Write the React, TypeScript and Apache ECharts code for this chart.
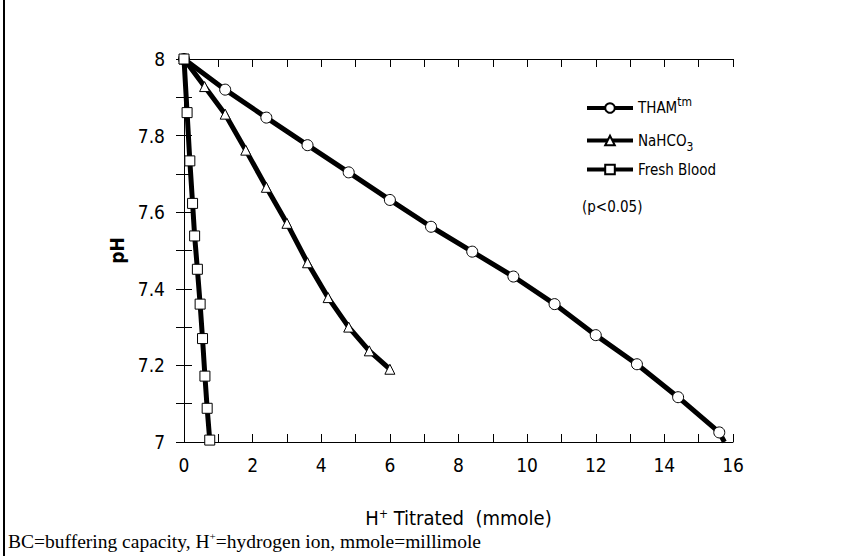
import React, { useEffect, useRef } from "react";
import * as echarts from "echarts";

const thamX = [0, 1.2, 2.4, 3.6, 4.8, 6.0, 7.2, 8.4, 9.6, 10.8, 12.0, 13.2, 14.4, 15.6];
const thamY = [8, 7.92, 7.847, 7.775, 7.704, 7.632, 7.562, 7.497, 7.432, 7.36, 7.279, 7.203, 7.117, 7.025];
const thamEnd = [15.75, 7.0];

const nahcoX = [0, 0.6, 1.2, 1.8, 2.4, 3.0, 3.6, 4.2, 4.8, 5.4, 6.0];
const nahcoY = [8, 7.928, 7.856, 7.762, 7.665, 7.571, 7.468, 7.377, 7.3, 7.238, 7.19];

const bloodX = [0, 0.09, 0.17, 0.25, 0.31, 0.39, 0.47, 0.54, 0.61, 0.675, 0.75];
const bloodY = [8, 7.86, 7.734, 7.623, 7.538, 7.451, 7.36, 7.27, 7.172, 7.088, 7.005];

const seriesNames = ["THAM", "NaHCO3", "Fresh Blood"];

const SANS = "'Liberation Sans Narrow', 'DejaVu Sans Condensed', 'Arial Narrow', 'Liberation Sans', sans-serif";
const SERIF = "'Liberation Serif', 'Times New Roman', serif";

export default function App() {
  const ref = useRef<HTMLDivElement>(null);
  useEffect(() => {
    if (!ref.current) return;
    const chart = echarts.init(ref.current, null, { renderer: "svg" });
    const axisCommon = {
      type: "value" as const,
      axisLine: { show: true, lineStyle: { color: "#000", width: 1 } },
      axisTick: { show: true, inside: true, length: 8, lineStyle: { color: "#000" } },
      minorTick: { show: true, splitNumber: 2, length: 8, lineStyle: { color: "#000" } },
      splitLine: { show: false },
    };
    const lineStyle = { color: "#000", width: 5 };
    const itemStyle = { color: "#fff", borderColor: "#000", borderWidth: 1 };
    const legendText = {
      color: "#000",
      fontFamily: SANS,
      fontSize: 15,
      rich: {
        a: { fontFamily: SANS, fontSize: 15, color: "#000", lineHeight: 24, verticalAlign: "middle" },
        sup: { fontFamily: SANS, fontSize: 12, color: "#000", lineHeight: 12, verticalAlign: "top" },
        sub: { fontFamily: SANS, fontSize: 12, color: "#000", lineHeight: 12, verticalAlign: "bottom" },
      },
    };
    const legendFmt = (n: string) => {
      if (n === "THAM") return "{a|THAM}{sup|tm}";
      if (n === "NaHCO3") return "{a|NaHCO}{sub|3}";
      return "{a|" + n + "}";
    };
    const legendTops = [91, 128, 157];
    const option: any = {
      animation: false,
      grid: { left: 184, top: 59, right: 123, bottom: 114, show: false },
      xAxis: [
        {
          ...axisCommon,
          min: 0,
          max: 16,
          interval: 2,
          position: "bottom",
          axisLabel: { color: "#000", fontFamily: SANS, fontSize: 19, margin: 13 },
          name: "H{sup|+} Titrated  (mmole)",
          nameLocation: "middle",
          nameGap: 66,
          nameTextStyle: {
            color: "#000",
            fontFamily: SANS,
            fontSize: 20,
            rich: {
              sup: { fontFamily: SANS, fontSize: 12, color: "#000", verticalAlign: "top", lineHeight: 10 },
            },
          },
        },
        {
          ...axisCommon,
          min: 0,
          max: 16,
          interval: 2,
          position: "top",
          axisLabel: { show: false },
        },
      ],
      yAxis: [
        {
          ...axisCommon,
          min: 7,
          max: 8,
          interval: 0.2,
          position: "left",
          axisLabel: {
            color: "#000",
            fontFamily: SANS,
            fontSize: 19,
            margin: 19,
            formatter: (v: number) => String(+v.toFixed(1)),
          },
          name: "pH",
          nameLocation: "middle",
          nameGap: 44,
          nameRotate: 90,
          nameTextStyle: { color: "#000", fontFamily: SANS, fontSize: 19, fontWeight: "bold" },
        },
        {
          ...axisCommon,
          min: 7,
          max: 8,
          interval: 0.2,
          position: "right",
          axisLabel: { show: false },
        },
      ],
      legend: seriesNames.map((n, i) => ({
        data: [n],
        left: 580,
        top: legendTops[i],
        orient: "vertical",
        itemWidth: 46,
        itemHeight: 12,
        itemGap: 6,
        selectedMode: false,
        formatter: legendFmt,
        textStyle: legendText,
        lineStyle: { color: "#000", width: 4 },
      })),
      series: [
        {
          name: "THAM",
          type: "line",
          xAxisIndex: 0,
          yAxisIndex: 0,
          symbol: "circle",
          symbolSize: 11,
          showAllSymbol: true,
          lineStyle,
          itemStyle,
          data: [
            ...thamX.map((x, i) => [x, thamY[i]]),
            { value: thamEnd, symbol: "none" },
          ],
          z: 3,
        },
        {
          name: "NaHCO3",
          type: "line",
          xAxisIndex: 0,
          yAxisIndex: 0,
          symbol: "triangle",
          symbolSize: 10,
          showAllSymbol: true,
          lineStyle,
          itemStyle,
          data: nahcoX.map((x, i) => [x, nahcoY[i]]),
          z: 4,
        },
        {
          name: "Fresh Blood",
          type: "line",
          xAxisIndex: 0,
          yAxisIndex: 0,
          symbol: "rect",
          symbolSize: 10,
          showAllSymbol: true,
          lineStyle,
          itemStyle,
          data: bloodX.map((x, i) => [x, bloodY[i]]),
          z: 5,
        },
      ],
      graphic: [
        {
          type: "line",
          shape: { x1: 4, y1: 0, x2: 4, y2: 556 },
          style: { stroke: "#000", lineWidth: 2 },
        },
        {
          type: "text",
          left: 582,
          top: 199,
          style: { text: "(p<0.05)", fill: "#000", font: "15px " + SANS },
        },
        {
          type: "text",
          left: 8,
          top: 530,
          style: {
            text: "{n|BC=buffering capacity, H}{s|+}{n|=hydrogen ion, mmole=millimole}",
            rich: {
              n: { fontFamily: SERIF, fontSize: 19.5, fill: "#000", lineHeight: 22, verticalAlign: "middle" },
              s: { fontFamily: SERIF, fontSize: 11, fill: "#000", lineHeight: 11, verticalAlign: "top" },
            },
          },
        },
      ],
    };
    chart.setOption(option);
    return () => chart.dispose();
  }, []);
  return (
    <div
      ref={ref}
      style={{ position: "fixed", left: 0, top: 0, width: 856, height: 556, background: "#fff" }}
    />
  );
}
